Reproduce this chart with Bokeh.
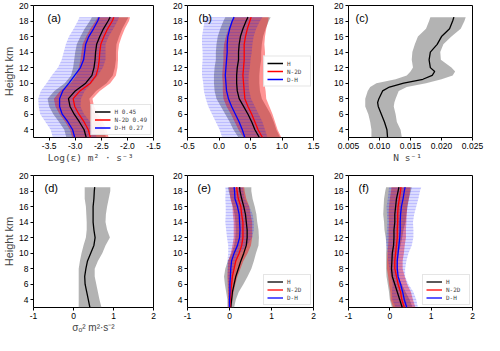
from bokeh.plotting import figure
from bokeh.layouts import gridplot
from bokeh.models import Range1d, FixedTicker, Label, Legend, LegendItem
from bokeh.embed import file_html
from bokeh.resources import INLINE

# ---------------- data ----------------
heights = [3, 4, 5, 6, 7, 8, 9, 10, 11, 12, 13, 14, 15, 16, 17, 18, 18.5]

# (a) Log(eps): mean and spread
a_H = [-2.79, -2.83, -2.92, -3.02, -3.10, -3.13, -3.00, -2.80, -2.68, -2.64, -2.62, -2.61, -2.59, -2.53, -2.46, -2.37, -2.33]
a_N = [-2.71, -2.75, -2.83, -2.93, -3.01, -3.04, -2.91, -2.71, -2.60, -2.56, -2.54, -2.53, -2.51, -2.45, -2.38, -2.29, -2.26]
a_D = [-3.01, -3.05, -3.14, -3.25, -3.30, -3.30, -3.24, -3.12, -3.01, -2.90, -2.84, -2.82, -2.80, -2.74, -2.65, -2.57, -2.54]
a_Hs = [0.38, 0.38, 0.39, 0.40, 0.40, 0.40, 0.40, 0.40, 0.40, 0.40, 0.40, 0.39, 0.38, 0.37, 0.36, 0.35, 0.35]
a_Ns = [0.35, 0.35, 0.36, 0.37, 0.37, 0.37, 0.38, 0.38, 0.38, 0.37, 0.36, 0.35, 0.35, 0.34, 0.33, 0.32, 0.31]
a_Ds = [0.42, 0.42, 0.43, 0.42, 0.40, 0.41, 0.42, 0.43, 0.44, 0.43, 0.42, 0.40, 0.38, 0.38, 0.38, 0.38, 0.38]

# (b) Log(Kz)
b_H = [0.64, 0.57, 0.52, 0.46, 0.39, 0.32, 0.29, 0.28, 0.28, 0.29, 0.31, 0.31, 0.32, 0.34, 0.38, 0.43, 0.46]
b_N = [0.69, 0.62, 0.57, 0.52, 0.46, 0.41, 0.40, 0.39, 0.38, 0.39, 0.40, 0.40, 0.40, 0.42, 0.45, 0.49, 0.51]
b_D = [0.41, 0.37, 0.32, 0.26, 0.20, 0.15, 0.12, 0.11, 0.10, 0.11, 0.12, 0.13, 0.13, 0.14, 0.17, 0.21, 0.24]
b_Hs = [0.33, 0.34, 0.35, 0.36, 0.36, 0.36, 0.36, 0.36, 0.36, 0.36, 0.36, 0.36, 0.36, 0.36, 0.36, 0.36, 0.36]
b_Ns = [0.30, 0.31, 0.32, 0.33, 0.34, 0.34, 0.34, 0.33, 0.33, 0.33, 0.33, 0.33, 0.32, 0.31, 0.30, 0.29, 0.28]
b_Ds = [0.36, 0.36, 0.37, 0.37, 0.37, 0.36, 0.36, 0.36, 0.37, 0.38, 0.38, 0.39, 0.40, 0.41, 0.42, 0.44, 0.45]

# (c) N
c_heights = [3, 4, 5, 6, 7, 7.5, 8, 9, 9.5, 10, 10.5, 11, 11.5, 12, 13, 14, 15, 16, 17, 18, 18.5]
c_mean = [0.0113, 0.0112, 0.0108, 0.0103, 0.0098, 0.0097, 0.0099, 0.0105, 0.0116, 0.0139, 0.0170, 0.0185, 0.0189, 0.0182, 0.0180, 0.0182, 0.0193, 0.0200, 0.0213, 0.0218, 0.0220]
c_lo = [0.0087, 0.0087, 0.0085, 0.0082, 0.0077, 0.0077, 0.0077, 0.0081, 0.0085, 0.0095, 0.0126, 0.0144, 0.0150, 0.0154, 0.0152, 0.0153, 0.0157, 0.0162, 0.0175, 0.0180, 0.0182]
c_hi = [0.0136, 0.0134, 0.0128, 0.0126, 0.0123, 0.0124, 0.0126, 0.0131, 0.0144, 0.0175, 0.0200, 0.0218, 0.0222, 0.0216, 0.0199, 0.0198, 0.0203, 0.0216, 0.0231, 0.0237, 0.0239]

# (d) sigma_o^2
d_mean = [0.41, 0.37, 0.33, 0.29, 0.28, 0.31, 0.35, 0.43, 0.51, 0.54, 0.51, 0.49, 0.49, 0.49, 0.51, 0.52, 0.53]
d_lo = [0.13, 0.13, 0.13, 0.13, 0.13, 0.13, 0.16, 0.20, 0.25, 0.31, 0.33, 0.33, 0.32, 0.31, 0.28, 0.28, 0.28]
d_hi = [0.70, 0.65, 0.61, 0.57, 0.53, 0.53, 0.61, 0.72, 0.80, 0.91, 0.84, 0.80, 0.81, 0.84, 0.88, 0.92, 0.92]

# (e) sigma_b&s^2
e_H = [0.03, 0.05, 0.07, 0.11, 0.15, 0.21, 0.27, 0.34, 0.40, 0.42, 0.42, 0.40, 0.38, 0.34, 0.29, 0.25, 0.24]
e_N = [0.01, 0.02, 0.03, 0.05, 0.07, 0.11, 0.15, 0.23, 0.29, 0.32, 0.32, 0.32, 0.29, 0.27, 0.21, 0.18, 0.17]
e_D = [0.00, 0.00, 0.01, 0.01, 0.02, 0.03, 0.05, 0.11, 0.19, 0.24, 0.25, 0.24, 0.23, 0.19, 0.13, 0.12, 0.11]
e_Hs = [0.08, 0.10, 0.15, 0.22, 0.28, 0.31, 0.31, 0.29, 0.29, 0.28, 0.27, 0.26, 0.26, 0.26, 0.26, 0.27, 0.28]
e_Ns = [0.04, 0.05, 0.07, 0.09, 0.12, 0.15, 0.18, 0.20, 0.22, 0.22, 0.22, 0.22, 0.21, 0.20, 0.19, 0.18, 0.18]
e_Ds = [0.02, 0.03, 0.04, 0.05, 0.06, 0.08, 0.10, 0.14, 0.22, 0.30, 0.33, 0.34, 0.32, 0.28, 0.23, 0.21, 0.21]

# (f) sigma_t^2
f_H = [0.30, 0.24, 0.18, 0.12, 0.06, 0.04, 0.05, 0.06, 0.09, 0.10, 0.10, 0.12, 0.12, 0.14, 0.16, 0.20, 0.22]
f_N = [0.35, 0.29, 0.26, 0.20, 0.16, 0.12, 0.12, 0.14, 0.16, 0.18, 0.18, 0.19, 0.19, 0.20, 0.23, 0.26, 0.27]
f_D = [0.41, 0.35, 0.31, 0.26, 0.20, 0.18, 0.18, 0.20, 0.22, 0.24, 0.25, 0.25, 0.26, 0.28, 0.32, 0.35, 0.37]
f_Hs = [0.25, 0.24, 0.20, 0.17, 0.14, 0.13, 0.14, 0.15, 0.17, 0.20, 0.23, 0.26, 0.28, 0.29, 0.30, 0.31, 0.31]
f_Ns = [0.27, 0.27, 0.25, 0.22, 0.20, 0.19, 0.19, 0.20, 0.20, 0.21, 0.21, 0.21, 0.22, 0.22, 0.23, 0.23, 0.23]
f_Ds = [0.27, 0.29, 0.26, 0.19, 0.17, 0.19, 0.22, 0.25, 0.31, 0.33, 0.32, 0.31, 0.33, 0.36, 0.37, 0.38, 0.39]

names_a = ["H 0.45", "N-2D 0.49", "D-H 0.27"]
names = ["H", "N-2D", "D-H"]

y_ticks = [4, 6, 8, 10, 12, 14, 16, 18, 20]
y_tick_labels = ["4", "6", "8", "10", "12", "14", "16", "18", "20"]
a_ticks = [-3.5, -3.0, -2.5, -2.0, -1.5]
a_tick_labels = ["-3.5", "-3.0", "-2.5", "-2.0", "-1.5"]
b_ticks = [-0.5, 0.0, 0.5, 1.0, 1.5]
b_tick_labels = ["-0.5", "0.0", "0.5", "1.0", "1.5"]
c_ticks = [0.005, 0.010, 0.015, 0.020, 0.025]
c_tick_labels = ["0.005", "0.010", "0.015", "0.020", "0.025"]
s_ticks = [-1, 0, 1, 2]
s_tick_labels = ["-1", "0", "1", "2"]

# ---------------- styling ----------------
SANS = "Liberation Sans"
MONO = "DejaVu Sans Mono"
GRAY = "#808080"
ROW1 = dict(height=165, top=5, bottom=28)
ROW2 = dict(height=170, top=10, bottom=27)
COL = [dict(width=161, left=28, right=8), dict(width=162, left=26, right=10), dict(width=161, left=25, right=12)]


def make_panel(col, row, xr, xticks, xlabels, tag, tag_dx, ylabel=None):
    p = figure(width=col["width"], height=row["height"],
               x_range=Range1d(*xr), y_range=Range1d(3, 20),
               output_backend="svg", toolbar_location=None,
               min_border_left=col["left"], min_border_right=col["right"],
               min_border_top=row["top"], min_border_bottom=row["bottom"])
    p.xgrid.visible = False
    p.ygrid.visible = False
    p.outline_line_color = "black"
    p.outline_line_width = 1
    p.outline_line_alpha = 1
    p.background_fill_color = "white"
    p.border_fill_color = "white"
    for ax in (p.xaxis[0], p.yaxis[0]):
        ax.axis_line_color = None
        ax.major_tick_out = 3
        ax.major_tick_in = 0
        ax.minor_tick_out = 0
        ax.minor_tick_in = 0
        ax.major_tick_line_color = "black"
        ax.major_label_text_font = SANS
        ax.major_label_text_font_size = "8.5px"
        ax.major_label_text_color = "black"
        ax.major_label_standoff = 2
    p.xaxis.ticker = FixedTicker(ticks=xticks)
    p.xaxis.major_label_overrides = dict(zip(xticks, xlabels))
    p.yaxis.ticker = FixedTicker(ticks=y_ticks)
    p.yaxis.major_label_overrides = dict(zip(y_ticks, y_tick_labels))
    if ylabel:
        p.yaxis.axis_label = ylabel
        p.yaxis.axis_label_text_font = SANS
        p.yaxis.axis_label_text_font_size = "11px"
        p.yaxis.axis_label_text_font_style = "normal"
        p.yaxis.axis_label_standoff = 1
    p.add_layout(Label(x=tag_dx, x_units="screen", y=19.1, text=tag,
                       text_font=SANS, text_font_size="11px",
                       text_baseline="top", text_color="black"))
    return p


def xtitle(p, text, font=MONO, size="9.5px"):
    p.xaxis.axis_label = text
    p.xaxis.axis_label_text_font = font
    p.xaxis.axis_label_text_font_size = size
    p.xaxis.axis_label_text_font_style = "normal"
    p.xaxis.axis_label_standoff = 0


def seg_title(p, xr, segments):
    # segments: (text, font size px, vertical shift px) in monospace font
    total = sum(len(t) * 0.602 * s for t, s, _ in segments)
    off = -total / 2.0
    xc = (xr[0] + xr[1]) / 2.0
    for t, s, dy in segments:
        p.add_layout(Label(x=xc, x_offset=off, y=-21 + dy, y_units="screen", text=t,
                           text_font=MONO, text_font_size=f"{s}px",
                           text_align="left", text_baseline="middle", text_color="black"))
        off += len(t) * 0.602 * s


def bands3(p, means, stds, labels, loc):
    lo = [[m - s for m, s in zip(mm, ss)] for mm, ss in zip(means, stds)]
    hi = [[m + s for m, s in zip(mm, ss)] for mm, ss in zip(means, stds)]
    # H (gray) first, then N-2D (red), then D-H (blue, hatched) on top
    p.harea(x1=lo[0], x2=hi[0], y=heights, fill_color=GRAY, fill_alpha=0.6)
    p.harea(x1=lo[1], x2=hi[1], y=heights, fill_color="red", fill_alpha=0.42)
    p.harea(x1=lo[2], x2=hi[2], y=heights, fill_color="blue", fill_alpha=0.14,
            hatch_pattern="-", hatch_color="blue", hatch_alpha=0.2, hatch_scale=3, hatch_weight=0.7)
    rH = p.line(means[0], heights, line_color="black", line_width=1.3)
    rN = p.line(means[1], heights, line_color="red", line_width=1.3)
    rD = p.line(means[2], heights, line_color="blue", line_width=1.3)
    leg = Legend(items=[LegendItem(label=labels[0], renderers=[rH]),
                        LegendItem(label=labels[1], renderers=[rN]),
                        LegendItem(label=labels[2], renderers=[rD])],
                 location=loc)
    leg.label_text_font = MONO
    leg.label_text_font_size = "6px"
    leg.label_height = 7
    leg.glyph_height = 7
    leg.glyph_width = 16
    leg.label_standoff = 4
    leg.spacing = 1
    leg.padding = 3
    leg.margin = 2
    leg.border_line_color = "#cccccc"
    leg.border_line_width = 1
    leg.background_fill_alpha = 0.9
    p.add_layout(leg)


# (a)
xa = (-3.8, -1.5)
pa = make_panel(COL[0], ROW1, xa, a_ticks, a_tick_labels, "(a)", 14, ylabel="Height km")
bands3(pa, [a_H, a_N, a_D], [a_Hs, a_Ns, a_Ds], names_a, "bottom_right")
xtitle(pa, "Log(ε)  m² · s⁻³")

# (b)
xb = (-0.5, 1.5)
pb = make_panel(COL[1], ROW1, xb, b_ticks, b_tick_labels, "(b)", 11)
bands3(pb, [b_H, b_N, b_D], [b_Hs, b_Ns, b_Ds], names, "center_right")
seg_title(pb, xb, [("Log(K", 9.5, 0), ("z", 7, -3), (")  m² · s⁻¹", 9.5, 0)])

# (c)
xc = (0.005, 0.025)
pc = make_panel(COL[2], ROW1, xc, c_ticks, c_tick_labels, "(c)", 7)
pc.harea(x1=c_lo, x2=c_hi, y=c_heights, fill_color=GRAY, fill_alpha=0.6)
pc.line(c_mean, c_heights, line_color="black", line_width=1.3)
xtitle(pc, "N  s⁻¹")

# (d)
xs = (-1, 2)
pd_ = make_panel(COL[0], ROW2, xs, s_ticks, s_tick_labels, "(d)", 11, ylabel="Height km")
pd_.harea(x1=d_lo, x2=d_hi, y=heights, fill_color=GRAY, fill_alpha=0.6)
pd_.line(d_mean, heights, line_color="black", line_width=1.3)
xtitle(pd_, "σₒ² m²·s⁻²", font=SANS, size="10px")

# (e)
pe = make_panel(COL[1], ROW2, xs, s_ticks, s_tick_labels, "(e)", 10)
bands3(pe, [e_H, e_N, e_D], [e_Hs, e_Ns, e_Ds], names, "bottom_right")
seg_title(pe, xs, [("σ", 9.5, 0), ("b&s", 7, -3), ("²  m² · s⁻²", 9.5, 0)])

# (f)
pf = make_panel(COL[2], ROW2, xs, s_ticks, s_tick_labels, "(f)", 10)
bands3(pf, [f_H, f_N, f_D], [f_Hs, f_Ns, f_Ds], names, "bottom_right")
seg_title(pf, xs, [("σ", 9.5, 0), ("t", 7, -3), ("²  m² · s⁻²", 9.5, 0)])

grid = gridplot([[pa, pb, pc], [pd_, pe, pf]], toolbar_location=None)

open("out.html", "w").write(file_html(grid, INLINE))
